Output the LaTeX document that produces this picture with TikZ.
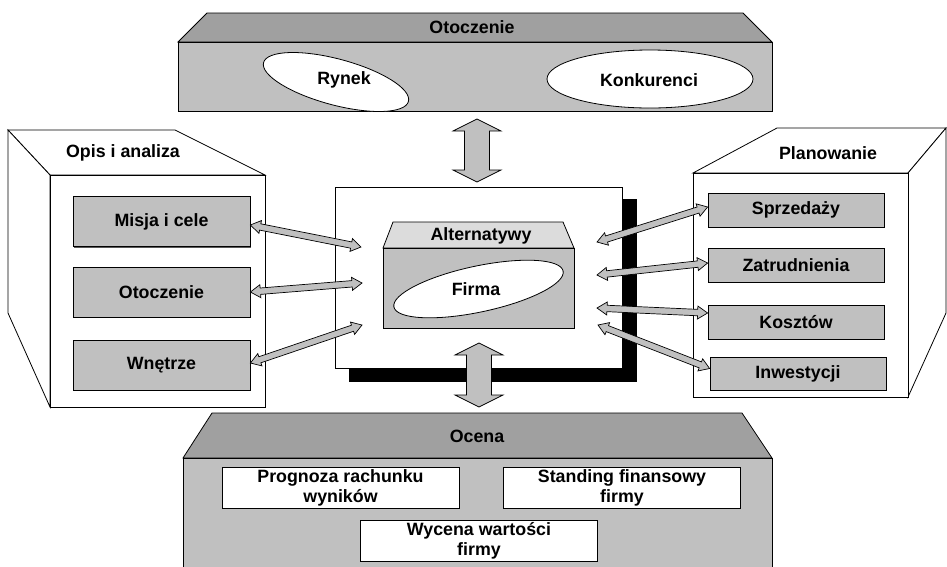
\documentclass[tikz,border=0pt]{standalone}
\usepackage{fontspec}
\setmainfont{Liberation Sans}
\usetikzlibrary{calc,shapes.geometric,shadows}
\definecolor{facegray}{HTML}{C0C0C0}
\definecolor{topgray}{HTML}{A0A0A0}
\definecolor{lightface}{HTML}{DCDCDC}
\newcommand\blockarr[5]{%
  \draw[blockarrow] (#1)
   -- ($(#1)!#5!(#2)!#4!90:(#2)$)
   -- ($(#1)!#5!(#2)!#3!90:(#2)$)
   -- ($(#2)!#5!(#1)!#3!-90:(#1)$)
   -- ($(#2)!#5!(#1)!#4!-90:(#1)$)
   -- (#2)
   -- ($(#2)!#5!(#1)!#4!90:(#1)$)
   -- ($(#2)!#5!(#1)!#3!90:(#1)$)
   -- ($(#1)!#5!(#2)!#3!-90:(#2)$)
   -- ($(#1)!#5!(#2)!#4!-90:(#2)$)
   -- cycle;}
\begin{document}
\begin{tikzpicture}[x=1pt,y=-1pt,line width=0.8pt,line join=miter,
  every node/.style={inner sep=0pt,font=\bfseries\fontsize{17.8}{20}\selectfont},
  cube/.style={draw,fill=white},
  graybox/.style={draw,fill=facegray,minimum width=177pt,minimum height=50pt,
     drop shadow={shadow xshift=1.3pt,shadow yshift=-1.3pt,fill=black!65,opacity=1}},
  rgraybox/.style={graybox,minimum width=176pt,minimum height=34pt},
  wbox/.style={draw,fill=white,minimum width=237pt,minimum height=41pt,align=center},
  oval/.style={ellipse,draw,fill=white},
  blockarrow/.style={draw,fill=facegray,line width=0.7pt}]
\useasboundingbox (0,0) rectangle (947,566);
\clip (0,0) rectangle (947,566);

% ---- top box: Otoczenie
\draw[fill=topgray] (207,13) -- (743,13) -- (772,42) -- (178,42) -- cycle;
\node[draw,fill=facegray,minimum width=594pt,minimum height=69pt] (otocF) at (475,76.5) {};
\node (otocT) at (472,27) {Otoczenie};
\node[oval,minimum width=150pt,minimum height=46pt,rotate=-15] (rynekE) at (336,82) {};
\node (rynek) at (344,80) {Rynek};
\node[oval,minimum width=206pt,minimum height=58pt] (konkE) at (650,79) {};
\node (konk) at (649,80) {Konkurenci};

% ---- left cube: Opis i analiza
\draw[cube] (8,130) -- (175,130) -- (265,175) -- (50,175) -- cycle;
\draw[cube] (8,130) -- (50,175) -- (50,407) -- (8,313) -- cycle;
\node[cube,minimum width=215pt,minimum height=232pt] (opisF) at (157.5,291) {};
\node (opisT) at (123,153) {Opis i analiza};
\node[graybox] (misja) at (161.5,221.5) {Misja i cele};
\node[graybox] (otocL) at (161.5,292) {Otoczenie};
\node[graybox] (wnetrze) at (161.5,365) {Wnętrze};

% ---- right cube: Planowanie
\draw[cube] (777,128) -- (946,128) -- (908,173) -- (693,173) -- cycle;
\draw[cube] (908,173) -- (946,128) -- (946,313) -- (908,397) -- cycle;
\node[cube,minimum width=215pt,minimum height=224pt] (planF) at (800.5,285) {};
\node (planT) at (828,153) {Planowanie};
\node[rgraybox] (sprz) at (796,210) {Sprzedaży};
\node[rgraybox] (zatr) at (796,265) {Zatrudnienia};
\node[rgraybox] (kosz) at (796,322) {Kosztów};
\node[rgraybox,minimum height=33pt] (inwe) at (798,373.5) {Inwestycji};

% ---- centre box
\fill[black] (349,199) rectangle (637,382);
\node[draw,fill=white,minimum width=287pt,minimum height=181pt] (firmbox) at (478.5,277.5) {};
\draw[fill=lightface] (393,222) -- (563,222) -- (574,248) -- (383,248) -- cycle;
\node[draw,fill=facegray,minimum width=191pt,minimum height=80pt] (altF) at (478.5,288) {};
\node (altT) at (481,236) {Alternatywy};
\node[oval,minimum width=173pt,minimum height=46pt,rotate=12] (firmaE) at (478.5,289) {};
\node (firma) at (476,289) {Firma};

% ---- bottom box: Ocena
\draw[fill=topgray] (212,413) -- (742,413) -- (772,458) -- (183,458) -- cycle;
\node[draw,fill=facegray,minimum width=589pt,minimum height=130pt] (ocenaF) at (477.5,523) {};
\node (ocenaT) at (477,436) {Ocena};
\node[wbox] (progn) at (340.5,487.5) {Prognoza rachunku\\wyników};
\node[wbox] (stand) at (622,487.5) {Standing finansowy\\firmy};
\node[wbox] (wyc) at (479,540.5) {Wycena wartości\\firmy};

% ---- arrow end points
\coordinate (topA) at (477,119);
\coordinate (topB) at (477,182);
\coordinate (botA) at (479,343);
\coordinate (botB) at (479,407);
\coordinate (l1) at (361,247);
\coordinate (l2) at (362,283);
\coordinate (l3) at (362,325);
\coordinate (misjaE) at ($(misja.east)+(0,3.5)$);
\coordinate (wnetE) at ($(wnetrze.east)+(0,-2)$);
\coordinate (r1) at (597,242);
\coordinate (r2) at (597,275);
\coordinate (r3) at (597,308);
\coordinate (r4) at (598,325);
\coordinate (sprzW) at ($(sprz.west)+(0,-3)$);
\coordinate (zatrW) at ($(zatr.west)+(0,-2)$);
\coordinate (koszW) at ($(kosz.west)+(0,-9)$);
\coordinate (inweW) at ($(inwe.west)+(0,-5)$);

% ---- arrows
\blockarr{topA}{topB}{12.5pt}{24pt}{12pt}
\blockarr{botA}{botB}{12.5pt}{24pt}{12pt}
\blockarr{misjaE}{l1}{3.2pt}{6.5pt}{10pt}
\blockarr{otocL.east}{l2}{3.2pt}{6.5pt}{10pt}
\blockarr{wnetE}{l3}{3.2pt}{6.5pt}{10pt}
\blockarr{r1}{sprzW}{3.2pt}{6.5pt}{10pt}
\blockarr{r2}{zatrW}{3.2pt}{6.5pt}{10pt}
\blockarr{r3}{koszW}{3.2pt}{6.5pt}{10pt}
\blockarr{r4}{inweW}{3.2pt}{6.5pt}{10pt}
\end{tikzpicture}
\end{document}
